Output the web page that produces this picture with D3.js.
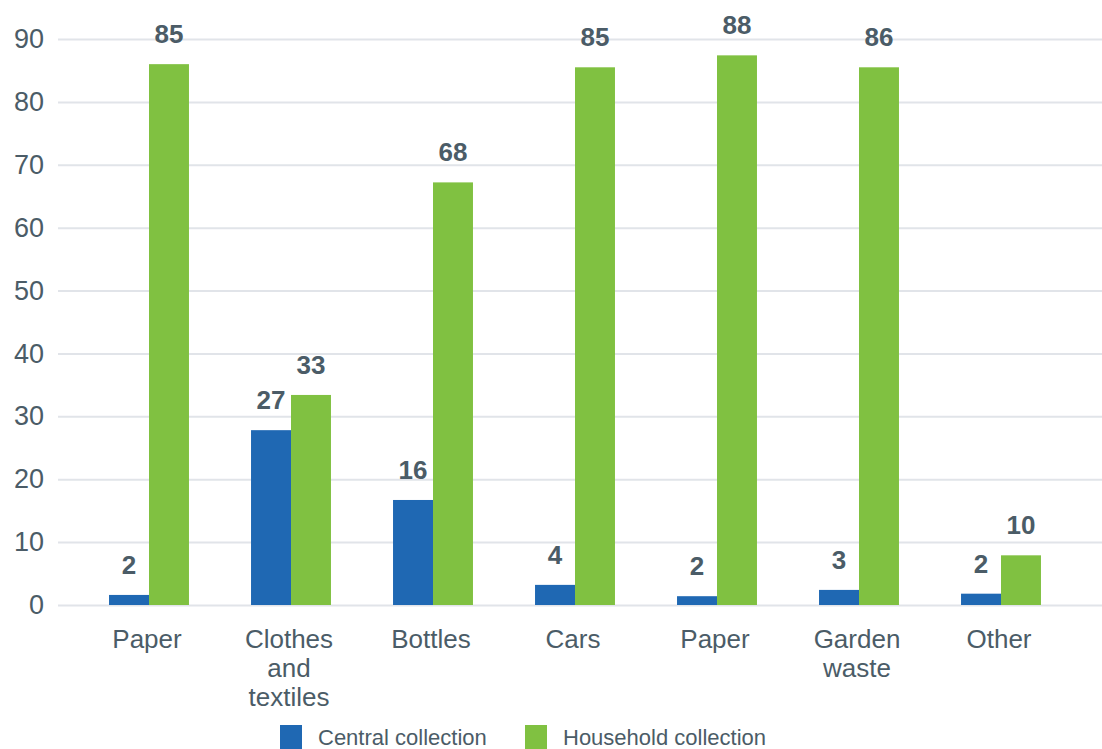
<!DOCTYPE html>
<html>
<head>
<meta charset="utf-8">
<script src="https://cdn.jsdelivr.net/npm/d3@7"></script>
<style>
  body { margin: 0; background: #fff; }
  svg { display: block; font-family: "Liberation Sans", Arial, sans-serif; }
</style>
</head>
<body>
<div id="chart"></div>
<script>
  // chart data
  const categories = ["Paper", "Clothes and textiles", "Bottles", "Cars", "Paper ", "Garden waste", "Other"];
  const categoryLines = [["Paper"], ["Clothes", "and", "textiles"], ["Bottles"], ["Cars"], ["Paper"], ["Garden", "waste"], ["Other"]];
  const centralValues = [1.6, 27.8, 16.7, 3.2, 1.4, 2.4, 1.8];
  const householdValues = [86, 33.4, 67.2, 85.5, 87.4, 85.5, 7.9];
  const centralLabels = ["2", "27", "16", "4", "2", "3", "2"];
  const householdLabels = ["85", "33", "68", "85", "88", "86", "10"];
  const yTicks = [0, 10, 20, 30, 40, 50, 60, 70, 80, 90];
  const seriesNames = ["Central collection", "Household collection"];

  const W = 1102, H = 749;
  const ColourCentral = "#1f68b3";
  const ColourHousehold = "#80c141";
  const textColour = "#4b5c67";

  const svg = d3.select("#chart").append("svg")
    .attr("width", W).attr("height", H);

  const y = d3.scaleLinear().domain([0, 90]).range([605, 39]);
  const x = d3.scaleBand().domain(categories).range([78, 1072])
    .paddingInner(0.437).paddingOuter(0.2185);
  const xSub = d3.scaleBand().domain(seriesNames).range([0, x.bandwidth()]);

  // gridlines + y labels
  const yAxis = d3.axisLeft(y).tickValues(yTicks).tickSize(-(W - 58)).tickPadding(14);
  const gy = svg.append("g").attr("transform", "translate(58,0)").call(yAxis);
  gy.select(".domain").remove();
  gy.selectAll(".tick line").attr("stroke", "#e1e4e9").attr("stroke-width", 2);
  gy.selectAll(".tick text")
    .attr("fill", textColour)
    .attr("font-size", 27)
    .attr("font-family", "Liberation Sans, Arial, sans-serif");

  const series = [
    { name: seriesNames[0], values: centralValues, labels: centralLabels, color: ColourCentral },
    { name: seriesNames[1], values: householdValues, labels: householdLabels, color: ColourHousehold }
  ];

  series.forEach(s => {
    const g = svg.append("g");
    g.selectAll("rect")
      .data(categories)
      .enter()
      .append("rect")
      .attr("x", d => x(d) + xSub(s.name))
      .attr("y", (d, i) => y(s.values[i]))
      .attr("width", xSub.bandwidth())
      .attr("height", (d, i) => y(0) - y(s.values[i]))
      .attr("fill", s.color);

    g.selectAll("text")
      .data(categories)
      .enter()
      .append("text")
      .attr("x", d => x(d) + xSub(s.name) + xSub.bandwidth() / 2)
      .attr("y", (d, i) => y(s.values[i]) - 21)
      .attr("text-anchor", "middle")
      .attr("font-size", 26)
      .attr("font-weight", "bold")
      .attr("fill", textColour)
      .text((d, i) => s.labels[i]);
  });

  // category labels
  const xl = svg.append("g");
  categories.forEach((c, i) => {
    const cx = x(c) + x.bandwidth() / 2 - 2;
    const t = xl.append("text")
      .attr("x", cx)
      .attr("y", 648)
      .attr("text-anchor", "middle")
      .attr("font-size", 26)
      .attr("fill", textColour);
    categoryLines[i].forEach((line, j) => {
      t.append("tspan")
        .attr("x", cx)
        .attr("dy", j === 0 ? 0 : 29)
        .text(line);
    });
  });

  // legend
  const legendX = [280, 525];
  const legend = svg.append("g");
  series.forEach((s, i) => {
    legend.append("rect")
      .attr("x", legendX[i]).attr("y", 725)
      .attr("width", 22).attr("height", 24)
      .attr("fill", s.color);
    legend.append("text")
      .attr("x", legendX[i] + 38).attr("y", 745)
      .attr("font-size", 22)
      .attr("fill", textColour)
      .text(s.name);
  });
</script>
</body>
</html>
